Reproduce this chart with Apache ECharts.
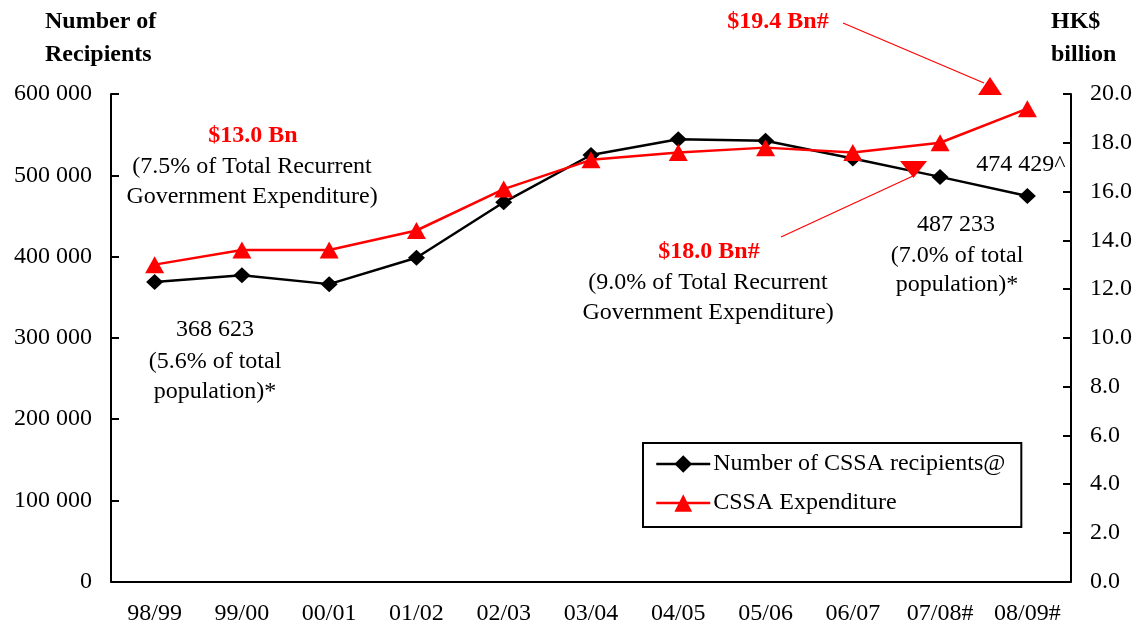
<!DOCTYPE html>
<html>
<head>
<meta charset="utf-8">
<script src="https://cdn.jsdelivr.net/npm/echarts@6/dist/echarts.min.js"></script>
<style>
html,body{margin:0;padding:0;background:#fff;}
#chart{width:1141px;height:631px;}
</style>
</head>
<body>
<div id="chart"></div>
<script>
const categories = ['98/99','99/00','00/01','01/02','02/03','03/04','04/05','05/06','06/07','07/08#','08/09#'];
const recipients = [368623, 377000, 366000, 398500, 466700, 524900, 544200, 542500, 520500, 498000, 474429];
const expenditure = [13.0, 13.6, 13.6, 14.4, 16.1, 17.3, 17.6, 17.8, 17.6, 18.0, 19.4];
const leftTicks = [0, 100000, 200000, 300000, 400000, 500000, 600000];
const rightTicks = [0, 2, 4, 6, 8, 10, 12, 14, 16, 18, 20];

const FONT = '"Liberation Serif", "Times New Roman", serif';
const chart = echarts.init(document.getElementById('chart'));

function txt(x, y, text, opts) {
  return {
    type: 'text', x: x, y: y, z: 100,
    style: Object.assign({
      text: text, fontFamily: FONT, fontSize: 24, fill: '#000',
      textAlign: 'center', textVerticalAlign: 'middle'
    }, opts || {})
  };
}
function head(x, y, text) {
  return { type: 'text', x: x, y: y, style: { text: text, fontFamily: FONT, fontSize: 24, fontWeight: 'bold', fill: '#000', textAlign: 'left', textVerticalAlign: 'middle' } };
}

const option = {
  backgroundColor: '#fff',
  animation: false,
  textStyle: { fontFamily: FONT },
  grid: { left: 111, right: 70, top: 94, bottom: 49.5, containLabel: false },
  legend: {
    orient: 'vertical',
    left: 643, top: 443,
    padding: [9, 16, 12, 12],
    itemGap: 15,
    itemWidth: 54, itemHeight: 22,
    borderColor: '#000', borderWidth: 2,
    backgroundColor: '#fff',
    lineStyle: { width: 2.5 },
    textStyle: { fontFamily: FONT, fontSize: 24, color: '#000', padding: [0,0,0,-2] },
    data: ['Number of CSSA recipients@', 'CSSA Expenditure']
  },
  xAxis: {
    type: 'category',
    data: categories,
    boundaryGap: true,
    axisLine: { lineStyle: { color: '#000', width: 2 } },
    axisTick: { inside: true, length: 8, lineStyle: { color: '#000', width: 2 } },
    axisLabel: { fontFamily: FONT, fontSize: 24, color: '#000', margin: 20 }
  },
  yAxis: [
    {
      type: 'value', min: leftTicks[0], max: leftTicks[leftTicks.length-1], interval: 100000,
      axisLine: { show: true, lineStyle: { color: '#000', width: 2 } },
      axisTick: { show: true, inside: true, length: 8, lineStyle: { color: '#000', width: 2 } },
      splitLine: { show: false },
      axisLabel: {
        fontFamily: FONT, fontSize: 24, color: '#000', margin: 19,
        formatter: v => v === 0 ? '0' : String(v).replace(/\B(?=(\d{3})+(?!\d))/g, ' ')
      }
    },
    {
      type: 'value', position: 'right', min: rightTicks[0], max: rightTicks[rightTicks.length-1], interval: 2,
      axisLine: { show: true, lineStyle: { color: '#000', width: 2 } },
      axisTick: { show: true, inside: true, length: 8, lineStyle: { color: '#000', width: 2 } },
      splitLine: { show: false },
      axisLabel: {
        fontFamily: FONT, fontSize: 24, color: '#000', margin: 19,
        formatter: v => v.toFixed(1)
      }
    }
  ],
  series: [
    {
      name: 'Number of CSSA recipients@',
      type: 'line', yAxisIndex: 0,
      data: recipients,
      symbol: 'diamond', symbolSize: [17, 16],
      itemStyle: { color: '#000' },
      lineStyle: { color: '#000', width: 2.5 },
      z: 2
    },
    {
      name: 'CSSA Expenditure',
      type: 'line', yAxisIndex: 1,
      data: expenditure,
      symbol: 'triangle', symbolSize: [19, 17],
      itemStyle: { color: '#ff0000' },
      lineStyle: { color: '#ff0000', width: 2.5 },
      z: 3
    }
  ],
  graphic: [
    head(45, 22, 'Number of'),
    head(45, 55, 'Recipients'),
    head(1051, 22, 'HK$'),
    head(1051, 55, 'billion'),

    txt(253, 136, '$13.0 Bn', { fill: '#ff0000', fontWeight: 'bold' }),
    txt(252, 167, '(7.5% of Total Recurrent'),
    txt(252, 197, 'Government Expenditure)'),

    txt(215, 330, '368 623'),
    txt(215, 362, '(5.6% of total'),
    txt(215, 392, 'population)*'),

    txt(709, 252, '$18.0 Bn#', { fill: '#ff0000', fontWeight: 'bold' }),
    txt(708, 283, '(9.0% of Total Recurrent'),
    txt(708, 313, 'Government Expenditure)'),

    txt(956, 225, '487 233'),
    txt(957, 256, '(7.0% of total'),
    txt(957, 285, 'population)*'),

    txt(1021, 165, '474 429^'),

    txt(778, 22, '$19.4 Bn#', { fill: '#ff0000', fontWeight: 'bold' }),

    { type: 'line', z: 90, shape: { x1: 843, y1: 23, x2: 984, y2: 83 }, style: { stroke: '#ff0000', lineWidth: 1.2 } },
    { type: 'polygon', z: 90, shape: { points: [[978, 95], [1002, 95], [990, 77]] }, style: { fill: '#ff0000' } },
    { type: 'line', z: 90, shape: { x1: 781, y1: 237, x2: 913, y2: 176 }, style: { stroke: '#ff0000', lineWidth: 1.2 } },
    { type: 'polygon', z: 90, shape: { points: [[900, 161], [927, 161], [913.5, 178]] }, style: { fill: '#ff0000' } }
  ]
};
chart.setOption(option);
</script>
</body>
</html>
